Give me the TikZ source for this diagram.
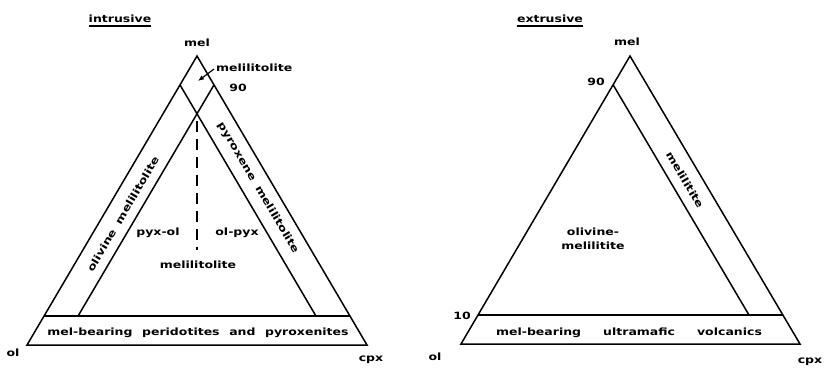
\documentclass[tikz,border=0pt]{standalone}
\usepackage{fontspec}
\setmainfont{DejaVu Sans}[FakeStretch=1.25,WordSpace=2.2]
\usetikzlibrary{arrows.meta}
\begin{document}
\begin{tikzpicture}[x=1pt,y=-1pt,line join=miter,
  edge/.style={line width=1.5pt},
  lab/.style={font=\fontsize{10}{12}\selectfont\bfseries,inner sep=0pt}]
\useasboundingbox (0,0) rectangle (831,370);
% ---------------- left: intrusive ----------------
\coordinate (A) at (197,56);
\coordinate (O) at (27,345);
\coordinate (C) at (367,345);
\draw[edge] (A) -- (O) -- (C) -- cycle;
\coordinate (l90o) at (barycentric cs:A=0.9,O=0.1);
\coordinate (l90c) at (barycentric cs:A=0.9,C=0.1);
\coordinate (l10o) at (barycentric cs:A=0.1,O=0.9);
\coordinate (l10c) at (barycentric cs:A=0.1,C=0.9);
\coordinate (lb1) at (barycentric cs:A=0.1,O=0.1,C=0.8);
\coordinate (lb2) at (barycentric cs:A=0.1,O=0.8,C=0.1);
\draw[edge] (l90o) -- (lb1);
\draw[edge] (l90c) -- (lb2);
\draw[edge] (l10o) -- (l10c);
\coordinate (d1) at (197,121);
\coordinate (d2) at (197,250);
\draw[edge,dash pattern=on 11pt off 7pt] (d1) -- (d2);

\node[lab] (intr) at (120,19) {intrusive};
\draw[line width=1.2pt] ([yshift=-3pt]intr.south west) -- ([yshift=-3pt]intr.south east);
\node[lab] (lmel) at (197,43) {mel};
\node[lab,anchor=west] (lmlt) at (216,68) {melilitolite};
\coordinate (arrtip) at (198,81);
\draw[line width=1.2pt,-{Latex[length=6pt,width=5pt]}] ([xshift=-2pt,yshift=-1pt]lmlt.west) -- (arrtip);
\node[lab] (l90) at (238,88) {90};
\node[lab] (lol) at (13,353) {ol};
\node[lab] (lcpx) at (371,360) {cpx};
\node[lab] (lbase) at (198,333) {mel-bearing peridotites and pyroxenites};
\node[lab] (pyxol) at (158,233) {pyx-ol};
\node[lab] (olpyx) at (237,233) {ol-pyx};
\node[lab] (lmelc) at (198,265) {melilitolite};
\node[lab,rotate=59.5] (olmel) at (123,214) {olivine\hspace{8pt}melilitolite};
\node[lab,rotate=-59.5] (pxmel) at (258,188) {pyroxene\hspace{8pt}melilitolite};

% ---------------- right: extrusive ----------------
\coordinate (B) at (630,56);
\coordinate (P) at (461,344);
\coordinate (Q) at (800,344);
\draw[edge] (B) -- (P) -- (Q) -- cycle;
\coordinate (r90o) at (barycentric cs:B=0.9,P=0.1);
\coordinate (r10o) at (barycentric cs:B=0.1,P=0.9);
\coordinate (r10c) at (barycentric cs:B=0.1,Q=0.9);
\coordinate (rb1) at (barycentric cs:B=0.1,P=0.1,Q=0.8);
\draw[edge] (r90o) -- (rb1);
\draw[edge] (r10o) -- (r10c);

\node[lab] (extr) at (550,19) {extrusive};
\draw[line width=1.2pt] ([yshift=-3pt]extr.south west) -- ([yshift=-3pt]extr.south east);
\node[lab] (rmel) at (627,42) {mel};
\node[lab] (r90) at (596,82) {90};
\node[lab] (r10) at (462,316) {10};
\node[lab] (rol) at (435,357) {ol};
\node[lab] (rcpx) at (810,362) {cpx};
\node[lab,align=center] (olmlt) at (593,239) {olivine-\\[2pt]melilitite};
\node[lab,rotate=-59.5] (mlt) at (685,180) {melilitite};
\node[lab] (rbase) at (629,333) {mel-bearing\hspace{22pt}ultramafic\hspace{22pt}volcanics};
\end{tikzpicture}
\end{document}
